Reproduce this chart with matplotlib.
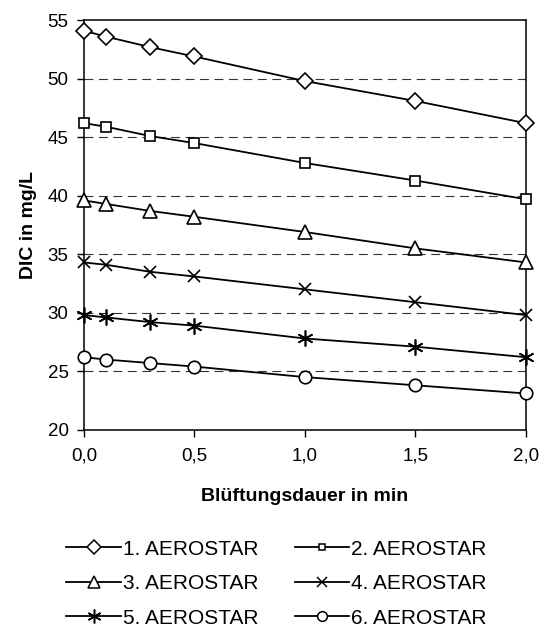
import numpy as np
import matplotlib
matplotlib.use('Agg')
import matplotlib.pyplot as plt
from matplotlib.ticker import FuncFormatter

plt.rcParams['font.family'] = ['Liberation Sans', 'DejaVu Sans']

# aeration time in min
zeit = [0.0, 0.1, 0.3, 0.5, 1.0, 1.5, 2.0]

# DIC in mg/L per AEROSTAR
dic1 = [54.1, 53.6, 52.7, 51.9, 49.8, 48.1, 46.2]
dic2 = [46.2, 45.9, 45.1, 44.5, 42.8, 41.3, 39.7]
dic3 = [39.6, 39.3, 38.7, 38.2, 36.9, 35.5, 34.3]
dic4 = [34.3, 34.1, 33.5, 33.1, 32.0, 30.9, 29.8]
dic5 = [29.8, 29.6, 29.2, 28.9, 27.8, 27.1, 26.2]
dic6 = [26.2, 26.0, 25.7, 25.4, 24.5, 23.8, 23.1]

labels = ["1. AEROSTAR", "2. AEROSTAR", "3. AEROSTAR",
          "4. AEROSTAR", "5. AEROSTAR", "6. AEROSTAR"]
series = [dic1, dic2, dic3, dic4, dic5, dic6]
markers = ['D', 's', '^', 'x', (6, 2, 0), 'o']
msizes = [8.5, 7, 10.5, 9, 11.5, 9]
legsizes = [7, 4.5, 9, 7, 10, 7]

fig = plt.figure(figsize=(5.45, 6.32), dpi=100)
ax = fig.add_axes([0.154, 0.320, 0.811, 0.648])

lines = []
for i, vals in enumerate(series):
  l, = ax.plot(zeit, vals, color='black', lw=1.3, marker=markers[i],
               markersize=msizes[i], markerfacecolor='white',
               markeredgecolor='black', markeredgewidth=1.2,
               label=labels[i], clip_on=False, zorder=3)
  lines.append(l)

ax.set_xlim(0, 2)
ax.set_ylim(20, 55)
ax.set_xticks([0, 0.5, 1.0, 1.5, 2.0])
ax.set_yticks(np.arange(20, 56, 5))
ax.xaxis.set_major_formatter(FuncFormatter(lambda v, p: ("%.1f" % v).replace('.', ',')))
ax.tick_params(direction='out', length=5, width=1, labelsize=13.5)
ax.tick_params(axis='y', pad=6)
ax.tick_params(axis='x', pad=8)
for y in range(25, 55, 5):
  ax.axhline(y, color='#333333', lw=0.8, ls=(0, (8, 5)), zorder=1)
for s in ax.spines.values():
  s.set_linewidth(1.1)

ax.set_xlabel("Blüftungsdauer in min", fontsize=14, fontweight='bold', labelpad=17)
ax.set_ylabel("DIC in mg/L", fontsize=14, fontweight='bold', labelpad=8)

order = [0, 2, 4, 1, 3, 5]
leg = fig.legend([lines[k] for k in order], [labels[k] for k in order],
                 ncol=2, loc='upper left', bbox_to_anchor=(0.122, 0.146),
                 frameon=False, fontsize=15, handlelength=2.6, handletextpad=0.1,
                 columnspacing=1.75, labelspacing=0.74, borderpad=0, borderaxespad=0)
for h, k in zip(leg.legend_handles, order):
  h.set_markersize(legsizes[k])
  h.set_markeredgewidth(1.1)

plt.savefig('out.png', dpi=100)
